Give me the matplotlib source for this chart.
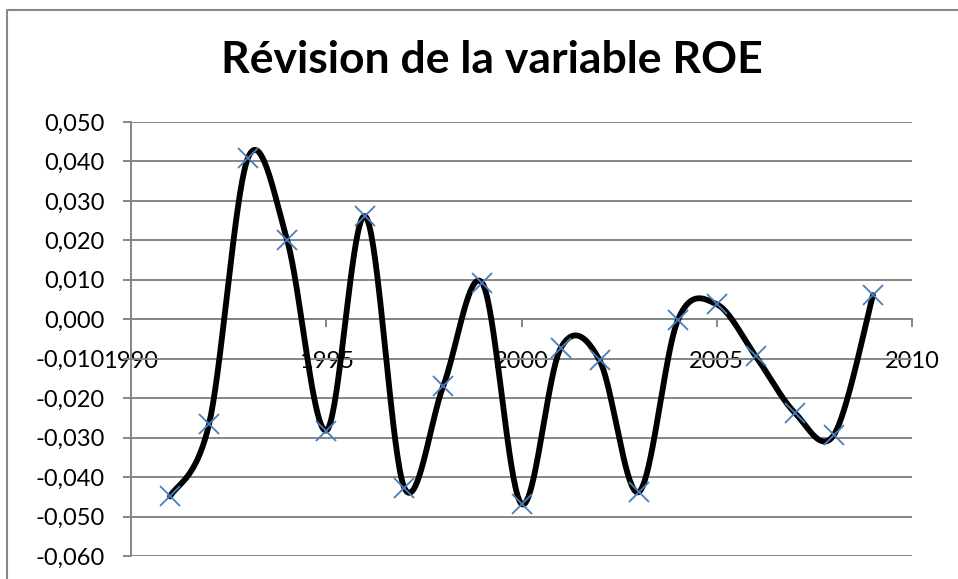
import numpy as np
import matplotlib
matplotlib.use("Agg")
import matplotlib.pyplot as plt
from matplotlib.ticker import FuncFormatter, MultipleLocator
from matplotlib.lines import Line2D

# data
years = [1991, 1992, 1993, 1994, 1995, 1996, 1997, 1998, 1999, 2000,
         2001, 2002, 2003, 2004, 2005, 2006, 2007, 2008, 2009]
roe = [-0.0449, -0.0265, 0.0410, 0.0200, -0.0282, 0.0261, -0.0427, -0.0168, 0.0091, -0.0468,
       -0.0074, -0.0104, -0.0438, -0.0003, 0.0038, -0.0094, -0.0237, -0.0293, 0.0061]
title = "Révision de la variable ROE"

plt.rcParams['font.family'] = ['Lato', 'DejaVu Sans']


def smooth(x, y, n=40):
    # Excel-like smoothed line (Catmull-Rom as cubic Bezier)
    x = np.asarray(x, float)
    y = np.asarray(y, float)
    px = np.concatenate([[x[0]], x, [x[-1]]])
    py = np.concatenate([[y[0]], y, [y[-1]]])
    t = np.linspace(0, 1, n)
    xs, ys = [], []
    for i in range(1, len(px) - 2):
        p0 = np.array([px[i], py[i]])
        p3 = np.array([px[i + 1], py[i + 1]])
        p1 = p0 + (np.array([px[i + 1], py[i + 1]]) - np.array([px[i - 1], py[i - 1]])) / 6
        p2 = p3 - (np.array([px[i + 2], py[i + 2]]) - np.array([px[i], py[i]])) / 6
        b = ((1 - t) ** 3)[:, None] * p0 + (3 * (1 - t) ** 2 * t)[:, None] * p1 \
            + (3 * (1 - t) * t ** 2)[:, None] * p2 + (t ** 3)[:, None] * p3
        xs.append(b[:, 0])
        ys.append(b[:, 1])
    return np.concatenate(xs), np.concatenate(ys)


fig = plt.figure(figsize=(9.58, 5.79), dpi=100)
ax = fig.add_axes([131 / 958, 1 - 556 / 579, (912 - 131) / 958, (556 - 122) / 579])

grid_col = '#868686'
sx, sy = smooth(years, roe)
ax.plot(sx, sy, color='black', lw=4.2, solid_capstyle='round', zorder=3)
ax.plot(years, roe, ls='none', marker='x', ms=14, mew=1.3, color='#4a7ebb', zorder=4)

ax.set_xlim(1990, 2010)
ax.set_ylim(-0.060, 0.050)
ax.yaxis.set_major_locator(MultipleLocator(0.010))
ax.xaxis.set_major_locator(MultipleLocator(5))
ax.yaxis.set_major_formatter(FuncFormatter(lambda v, p: f"{v:.3f}".replace('.', ',')))
ax.grid(axis='y', color=grid_col, lw=1.4)
ax.set_axisbelow(True)

for s in ['top', 'right']:
    ax.spines[s].set_visible(False)
ax.spines['bottom'].set_position(('data', 0))
ax.spines['bottom'].set_color(grid_col)
ax.spines['left'].set_color(grid_col)
ax.spines['bottom'].set_linewidth(1.4)
ax.spines['left'].set_linewidth(1.4)
ax.tick_params(axis='both', direction='out', length=6, width=1.4, color=grid_col,
               labelsize=17, labelcolor='black')
ax.tick_params(axis='y', pad=13)
ax.tick_params(axis='x', pad=17)

fig.text(0.513, 0.897, title, ha='center', va='center', fontsize=32, fontweight='bold')

# chart border (only top and left visible in the reference)
fig.add_artist(Line2D([7 / 958, 7 / 958, 1], [0, 1 - 10 / 579, 1 - 10 / 579],
                      transform=fig.transFigure, color='#878787', lw=1.5))

fig.savefig('out.png', dpi=100)
